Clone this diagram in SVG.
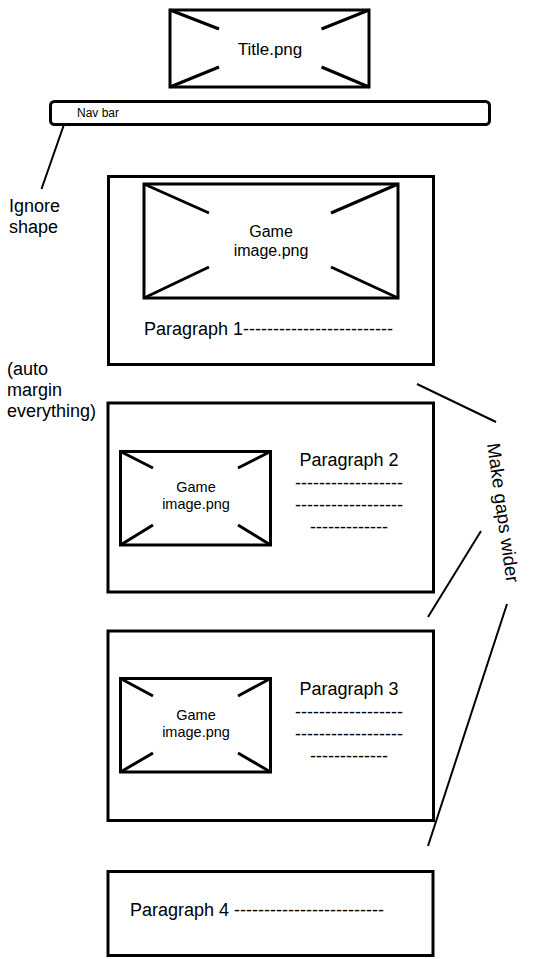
<svg xmlns="http://www.w3.org/2000/svg" width="540" height="959" viewBox="0 0 540 959">
<style>
.box{fill:#fff;stroke:#000;stroke-width:3}
.x{stroke:#000;stroke-width:3;fill:none}
.c{stroke:#000;stroke-width:2;fill:none}
text{font-family:"Liberation Sans",Arial,sans-serif;fill:#000}
.p{font-size:18px}
.m{text-anchor:middle}
</style>
<rect width="540" height="959" fill="#fff"/>
<g id="connectors">
<line class="c" x1="68" y1="113" x2="41.5" y2="189"/>
<line class="c" x1="417" y1="384" x2="496" y2="422"/>
<line class="c" x1="481" y1="531" x2="428" y2="617"/>
<line class="c" x1="507" y1="604" x2="428" y2="846"/>
</g>
<g id="title">
<rect class="box" x="170" y="10" width="199" height="77"/>
<path class="x" d="M170 10L219 29M369 10L321.5 29M170 87L219 67M369 87L321.5 67"/>
<text class="m" x="270" y="55" font-size="17">Title.png</text>
</g>
<g id="navbar">
<rect class="box" x="50.5" y="101.5" width="439" height="23" rx="4"/>
<text x="77" y="117" font-size="12">Nav bar</text>
</g>
<g id="note-ignore">
<text class="p" x="9" y="212">Ignore</text>
<text class="p" x="9" y="233">shape</text>
</g>
<g id="note-margin">
<text class="p" x="7" y="375">(auto</text>
<text class="p" x="7" y="396">margin</text>
<text class="p" x="7" y="417">everything)</text>
</g>
<g id="note-gaps">
<text transform="translate(487,444) rotate(82)" font-size="18.6">Make gaps wider</text>
</g>
<g id="section1">
<rect class="box" x="108.5" y="176.5" width="325" height="188"/>
<rect class="box" x="144" y="184" width="254" height="114"/>
<path class="x" d="M144 184L209 213M398 184L331 213M144 298L209 267M398 298L331 267"/>
<text class="m" x="271" y="237" font-size="16">Game</text>
<text class="m" x="271" y="256" font-size="16">image.png</text>
<text class="p" x="144" y="335">Paragraph 1-------------------------</text>
</g>
<g id="section2">
<rect class="box" x="108" y="403" width="325.5" height="189"/>
<rect class="box" x="120.5" y="451.5" width="150" height="93.5"/>
<path class="x" d="M120.5 451.5L153 468M270.5 451.5L238 468M120.5 545L153 525M270.5 545L238 525"/>
<text class="m" x="196" y="492" font-size="14.5">Game</text>
<text class="m" x="196" y="509" font-size="14.5">image.png</text>
<text class="p m" x="349" y="466">Paragraph 2</text>
<text class="p m" x="349" y="488.5">------------------</text>
<text class="p m" x="349" y="510.5">------------------</text>
<text class="p m" x="349" y="532.5">-------------</text>
</g>
<g id="section3">
<rect class="box" x="108" y="631" width="325.5" height="189.5"/>
<rect class="box" x="120.5" y="678.5" width="150" height="93.5"/>
<path class="x" d="M120.5 678.5L153 696M270.5 678.5L238 696M120.5 772L153 753M270.5 772L238 753"/>
<text class="m" x="196" y="720" font-size="14.5">Game</text>
<text class="m" x="196" y="737" font-size="14.5">image.png</text>
<text class="p m" x="349" y="695">Paragraph 3</text>
<text class="p m" x="349" y="718">------------------</text>
<text class="p m" x="349" y="740">------------------</text>
<text class="p m" x="349" y="762">-------------</text>
</g>
<g id="section4">
<rect class="box" x="108" y="871.5" width="325" height="84"/>
<text class="p" x="130" y="916">Paragraph 4 -------------------------</text>
</g>
</svg>
